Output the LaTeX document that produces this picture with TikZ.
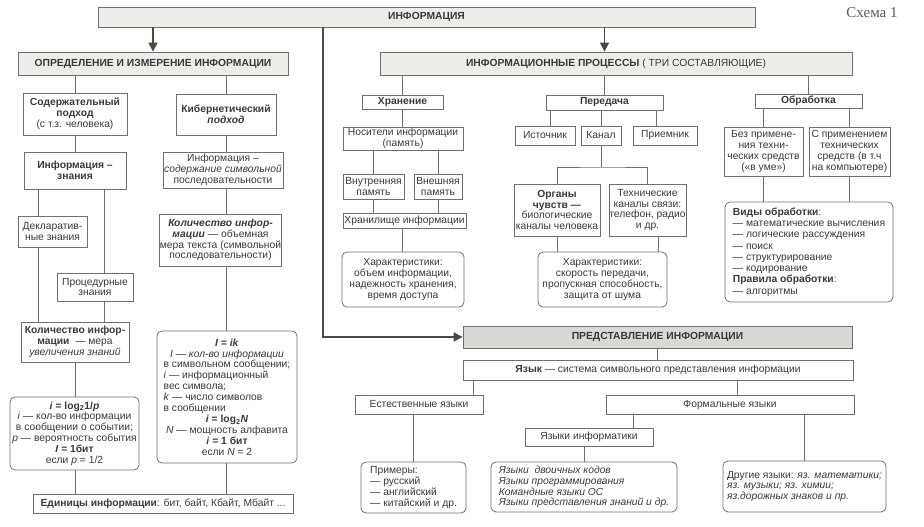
\documentclass[tikz,border=0pt]{standalone}
\usepackage{fontspec}
\setmainfont{Liberation Sans}
\newfontfamily\schemafont{Liberation Serif}
\usetikzlibrary{arrows.meta}
\definecolor{ink}{HTML}{3A3A3A}
\definecolor{edgec}{HTML}{707070}
\definecolor{hdr}{HTML}{ECECE8}
\definecolor{hdrdark}{HTML}{D8D8D4}
\definecolor{mainc}{HTML}{4A4A42}
\tikzset{
 area/.style n args={4}{minimum width={#3-#1}, minimum height={#4-#2}, at={({(#1+#3)/2},{(#2+#4)/2})}},
 box/.style={draw=edgec, line width=0.8pt, fill=white, inner sep=0pt, align=center, text=ink, font=\fontsize{10.3}{10.8}\selectfont},
 rbox/.style={box, rounded corners=5pt},
 hbox/.style={box, fill=hdr, font=\fontsize{10.3}{11}\selectfont\bfseries},
 conn/.style={draw=edgec, line width=0.8pt},
 mainarrow/.style={draw=mainc, line width=1.5pt, -{Triangle[length=9pt,width=9pt]}},
}
\begin{document}
\begin{tikzpicture}[x=1pt,y=-1pt]
\useasboundingbox (0,0) rectangle (924,527);
\fill[white] (0,0) rectangle (924,527);

% headers
\node[hbox, area={98}{7}{755}{27}] (info) {ИНФОРМАЦИЯ};
\node[hbox, area={18}{52}{288}{75}] (opr) {ОПРЕДЕЛЕНИЕ И ИЗМЕРЕНИЕ ИНФОРМАЦИИ};
\node[hbox, area={380}{52}{852}{75}] (proc) {ИНФОРМАЦИОННЫЕ ПРОЦЕССЫ {\mdseries( ТРИ СОСТАВЛЯЮЩИЕ)}};
\node[hbox, fill=hdrdark, area={463}{326}{852}{348}] (pred) {ПРЕДСТАВЛЕНИЕ ИНФОРМАЦИИ};
\node[font=\schemafont\fontsize{15}{17}\selectfont, text=ink!85] (schema) at (872,13) {Схема 1};

% left column
\node[box, area={23}{93}{127}{135}] (sod) {\textbf{Содержательный}\\\textbf{подход}\\(с т.з. человека)};
\node[box, area={24}{152}{126}{189}] (znan) {\textbf{Информация –}\\\textbf{знания}};
\node[box, area={18}{216}{87}{247}] (decl) {Декларатив-\\ные знания};
\node[box, area={57}{273}{133}{301}] (proced) {Процедурные\\знания};
\node[box, area={21}{322}{129}{362}] (kolz) {\textbf{Количество инфор-}\\\textbf{мации}\ \ — мера\\\textit{увеличения знаний}};
\node[rbox, area={10}{397}{139}{470}] (form1) {\textbf{\textit{i} = log\textsubscript{2}1/\textit{p}}\\\textit{i} — кол-во информации\\в сообщении о событии;\\\textit{p} — вероятность события\\\textbf{\textit{I} = 1бит}\\если \textit{p} = 1/2};
\node[box, area={33}{494}{293}{513}] (units) {\textbf{Единицы информации}: бит, байт, Кбайт, Мбайт ...};

% second column
\node[box, area={176}{94}{276}{135}] (kib) {\textbf{Кибернетический}\\\textbf{\textit{подход}}};
\node[box, area={163}{152}{283}{188}] (infsod) {Информация –\\\textit{содержание символьной}\\последовательности};
\node[box, area={160}{214}{281}{266}] (kolk) {\textbf{\textit{Количество инфор-}}\\\textbf{\textit{мации}} — объемная\\мера текста (символьной\\последовательности)};
\node[rbox, area={157}{331}{297}{463}] (form2) {\textbf{\textit{I = ik}}\\\textit{I — кол-во информации}\\
\begin{tabular}{@{}l@{}}в символьном сообщении;\\\textit{i} — информационный\\вес символа;\\\textit{k} — число символов\\в сообщении\end{tabular}\\
\textbf{\textit{i} = log\textsubscript{2}\textit{N}}\\\textit{N} — мощность алфавита\\\textbf{\textit{i} = 1 бит}\\если \textit{N} = 2};

% storage
\node[box, area={362}{95}{443}{109}] (hran) {\textbf{Хранение}};
\node[box, area={343}{127}{463}{150}] (nos) {Носители информации\\(память)};
\node[box, area={343}{174}{404}{199}] (vnut) {Внутренняя\\память};
\node[box, area={414}{174}{462}{199}] (vnesh) {Внешняя\\память};
\node[box, area={343}{213}{466}{228}] (hrani) {Хранилище информации};
\node[rbox, area={342}{252}{464}{307}] (char1) {Характеристики:\\объем информации,\\надежность хранения,\\время доступа};

% transfer
\node[box, area={546}{95}{663}{110}] (per) {\textbf{Передача}};
\node[box, area={515}{126}{575}{145}] (ist) {Источник};
\node[box, area={581}{126}{621}{145}] (kan) {Канал};
\node[box, area={633}{126}{697}{145}] (pri) {Приемник};
\node[box, area={514}{184}{600}{236}] (org) {\textbf{Органы}\\\textbf{чувств —}\\биологические\\каналы человека};
\node[box, area={609}{184}{686}{236}] (tech) {Технические\\каналы связи:\\телефон, радио\\и др.};
\node[rbox, area={538}{252}{667}{307}] (char2) {Характеристики:\\скорость передачи,\\пропускная способность,\\защита от шума};

% processing
\node[box, area={755}{94}{862}{108}] (obr) {\textbf{Обработка}};
\node[box, area={724}{127}{803}{176}] (bez) {Без примене-\\ния техни-\\ческих средств\\(«в уме»)};
\node[box, area={809}{127}{890}{176}] (spr) {С применением\\технических\\средств (в т.ч\\на компьютере)};
\node[rbox, align=left, font=\fontsize{10.3}{11.3}\selectfont, area={725}{202}{893}{302}] (vid) {\textbf{Виды обработки}:\\— математические вычисления\\— логические рассуждения\\— поиск\\— структурирование\\— кодирование\\\textbf{Правила обработки}:\\— алгоритмы};

% representation
\node[box, area={463}{360}{853}{380}] (yaz) {\textbf{Язык} — система символьного представления информации};
\node[box, area={355}{395}{483}{414}] (est) {Естественные языки};
\node[box, area={606}{395}{854}{414}] (formal) {Формальные языки};
\node[box, area={525}{428}{653}{446}] (yazi) {Языки информатики};
\node[rbox, align=left, area={361}{462}{466}{513}] (prim) {Примеры:\\— русский\\— английский\\— китайский и др.};
\node[rbox, align=left, font=\fontsize{10.3}{10.8}\selectfont\itshape, area={491}{462}{677}{512}] (ital) {Языки\ \ двоичных кодов\\Языки программирования\\Командные языки ОС\\Языки представления знаний и др.};
\node[rbox, align=left, area={723}{461}{886}{512}] (dr) {Другие языки: \textit{яз. математики;}\\\textit{яз. музыки; яз. химии;}\\\textit{яз.дорожных знаков и пр.}};

% helper coordinates
\coordinate (bend) at (323,337);
\coordinate (bus) at (603,167);
\coordinate (xdl) at (38,0);
\coordinate (xpr) at (104,0);
\coordinate (xist) at (550,0);
\coordinate (xpri) at (656,0);
\coordinate (xtch) at (658,0);
\coordinate (xest) at (473,0);
\coordinate (xfor) at (737,0);
\coordinate (xyzi) at (633,0);

% main arrows
\draw[mainarrow] (info.south -| opr.north) -- (opr.north);
\draw[mainarrow] (info.south -| per.north) -- (proc.north -| per.north);
\draw[mainarrow] (info.south -| bend) |- (pred.west);

% connectors
\draw[conn] (opr.south -| sod.north) -- (sod.north);
\draw[conn] (opr.south -| kib.north) -- (kib.north);
\draw[conn] (sod.south) -- (znan.north -| sod.south);
\draw[conn] (znan.south -| xdl) -- (decl.north -| xdl);
\draw[conn] (decl.south -| xdl) -- (kolz.north -| xdl);
\draw[conn] (znan.south -| xpr) -- (proced.north -| xpr);
\draw[conn] (proced.south -| xpr) -- (kolz.north -| xpr);
\draw[conn] (kolz.south) -- (form1.north -| kolz.south);
\draw[conn] (form1.south -| kolz.south) -- (units.north -| kolz.south);
\draw[conn] (kib.south) -- (infsod.north -| kib.south);
\draw[conn] (infsod.south -| kib.south) -- (kolk.north -| kib.south);
\draw[conn] (kolk.south -| kib.south) -- (form2.north -| kib.south);
\draw[conn] (form2.south -| kib.south) -- (units.north -| kib.south);
\draw[conn] (proc.south -| hran.north) -- (hran.north);
\draw[conn] (proc.south -| per.north) -- (per.north);
\draw[conn] (proc.south -| obr.north) -- (obr.north);
\draw[conn] (hran.south) -- (nos.north -| hran.south);
\draw[conn] (nos.south -| vnut.north) -- (vnut.north);
\draw[conn] (nos.south -| vnesh.north) -- (vnesh.north);
\draw[conn] (vnut.south) -- (hrani.north -| vnut.south);
\draw[conn] (vnesh.south) -- (hrani.north -| vnesh.south);
\draw[conn] (hrani.south -| hran.south) -- (char1.north -| hran.south);
\draw[conn] (per.south -| xist) -- (ist.north -| xist);
\draw[conn] (per.south -| kan.north) -- (kan.north);
\draw[conn] (per.south -| xpri) -- (pri.north -| xpri);
\draw[conn] (kan.south) -- (kan.south |- bus);
\draw[conn] (org.north) |- (bus) -| (tech.north);
\draw[conn] (org.south) -- (char2.north -| org.south);
\draw[conn] (tech.south -| xtch) -- (char2.north -| xtch);
\draw[conn] (obr.south -| bez.north) -- (bez.north);
\draw[conn] (obr.south -| spr.north) -- (spr.north);
\draw[conn] (bez.south) -- (vid.north -| bez.south);
\draw[conn] (spr.south) -- (vid.north -| spr.south);
\draw[conn] (pred.south) -- (yaz.north -| pred.south);
\draw[conn] (yaz.south -| xest) -- (est.north -| xest);
\draw[conn] (yaz.south -| xfor) -- (formal.north -| xfor);
\draw[conn] (est.south -| prim.north) -- (prim.north);
\draw[conn] (formal.south -| xyzi) -- (yazi.north -| xyzi);
\draw[conn] (yazi.south -| ital.north) -- (ital.north);
\draw[conn] (formal.south -| dr.north) -- (dr.north);
\end{tikzpicture}
\end{document}
